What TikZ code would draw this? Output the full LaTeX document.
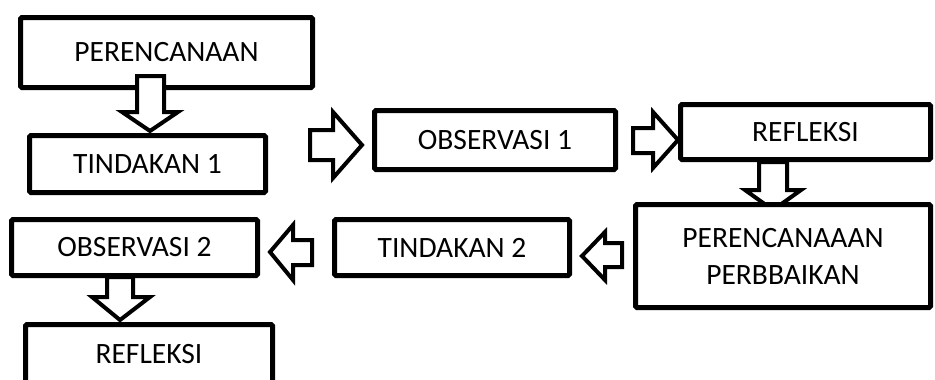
\documentclass[tikz,border=0pt]{standalone}
\usepackage{fontspec}
\setmainfont{Carlito}
\begin{document}
\begin{tikzpicture}[x=1pt,y=-1pt,
  box/.style={draw=black, line width=5pt, fill=white, inner sep=0pt, rounded corners=1.5pt,
    font=\fontsize{29.5}{37}\selectfont, align=center},
  blk/.style={draw=black, line width=4pt, fill=white, line join=miter}]
\useasboundingbox (0,0) rectangle (935,380);
% boxes
\node[box, minimum width=292, minimum height=70] (p1) at (166.5,52.5) {PERENCANAAN};
\node[box, minimum width=236, minimum height=57] (t1) at (147.5,164) {TINDAKAN 1};
\node[box, minimum width=241, minimum height=59] (o1) at (495,140) {OBSERVASI 1};
\node[box, minimum width=250, minimum height=55] (r1) at (805.5,132) {REFLEKSI};
\node[box, minimum width=246, minimum height=56] (o2) at (134.5,247.5) {OBSERVASI 2};
\node[box, minimum width=235, minimum height=56] (t2) at (452,247.5) {TINDAKAN 2};
\node[box, minimum width=247, minimum height=100, text height=39, text depth=61] (r2) at (149,374.5) {REFLEKSI};
% block arrows
\draw[blk] (137,76) -- (164,76) -- (164,112) -- (178,112) -- (150,131) -- (122,112) -- (137,112) -- cycle;
\draw[blk] (310,130) -- (333,130) -- (333,112) -- (362,145) -- (333,178) -- (333,160) -- (310,160) -- cycle;
\draw[blk] (633,128) -- (653,128) -- (653,112) -- (678,140) -- (653,168) -- (653,153) -- (633,153) -- cycle;
\draw[blk] (759,162) -- (787,162) -- (787,190) -- (801,190) -- (773,210) -- (745,190) -- (759,190) -- cycle;
\draw[blk] (622,243) -- (605,243) -- (605,232) -- (582,256) -- (605,280) -- (605,267) -- (622,267) -- cycle;
\draw[blk] (312,240) -- (293,240) -- (293,225) -- (270,252) -- (293,280) -- (293,265) -- (312,265) -- cycle;
\draw[blk] (107,277) -- (133,277) -- (133,297) -- (150,297) -- (120,320) -- (92,297) -- (107,297) -- cycle;
\node[box, minimum width=295, minimum height=103] (pp) at (783,256) {PERENCANAAAN\\PERBBAIKAN};
\end{tikzpicture}
\end{document}
